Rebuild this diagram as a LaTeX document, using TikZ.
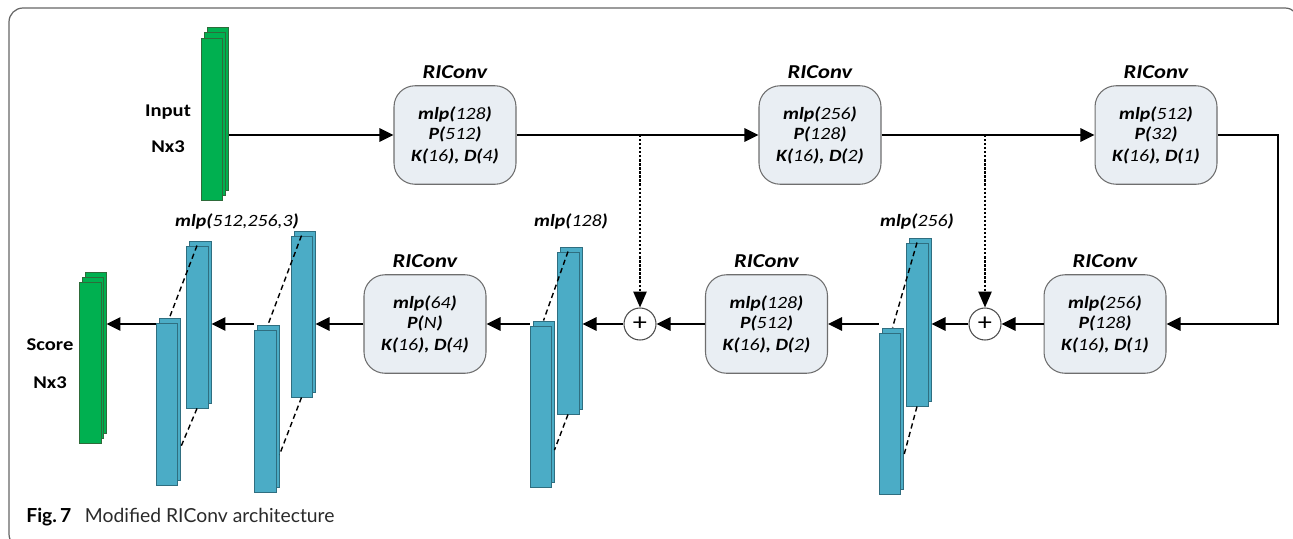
\documentclass[tikz,border=0pt]{standalone}
\usepackage{fontspec}
\setmainfont{Carlito}[FakeStretch=1.15]
\newfontfamily\capfont{Lato}
\usetikzlibrary{arrows.meta,fit,calc}

\definecolor{gfill}{HTML}{00B050}
\definecolor{gline}{HTML}{2E6B3A}
\definecolor{bfill}{HTML}{4BACC6}
\definecolor{bline}{HTML}{2F6E80}
\definecolor{boxfill}{HTML}{E9EEF3}
\definecolor{boxline}{HTML}{6E6E6E}
\definecolor{capgray}{HTML}{2A2A2A}

\newcommand{\pv}[2]{\textbf{#1(}#2\textbf{)}}
\newcommand{\slab}[6]{%
  \node[#6, fit={({#2+3},{#3-5}) ({#4+3},{#5-5})}] (#1b) {};
  \node[#6, fit={(#2,#3) (#4,#5)}] (#1) {};
}

\tikzset{
  rbox/.style={draw=boxline, line width=0.6pt, fill=boxfill, rounded corners=0.42cm,
    minimum width=2.44cm, minimum height=1.97cm, inner sep=0pt, align=center,
    font=\fontsize{9.8}{11.4}\selectfont\itshape},
  ttl/.style={font=\fontsize{11.2}{13}\selectfont\bfseries\itshape, inner sep=0pt, anchor=base},
  lbl/.style={font=\fontsize{10.2}{12}\selectfont\bfseries, inner sep=0pt, anchor=base},
  mlbl/.style={font=\fontsize{9.8}{11}\selectfont\itshape, inner sep=0pt, anchor=base},
  conn/.style={line width=1.5pt, -{Triangle[length=8pt,width=7.5pt]}},
  dconn/.style={line width=1pt, dash pattern=on 1.3pt off 1pt, -{Triangle[length=9pt,width=7.5pt]}},
  blu/.style={draw=bline, line width=0.5pt, fill=bfill, inner sep=0pt},
  grn/.style={draw=gline, line width=0.5pt, fill=gfill, inner sep=0pt},
  pls/.style={circle, draw=black!70, line width=0.6pt, fill=white, minimum size=0.64cm,
    inner sep=0pt, font=\fontsize{14}{14}\selectfont},
  dsh/.style={line width=0.8pt, dash pattern=on 3pt off 2pt},
}

\begin{document}
\begin{tikzpicture}[x=0.02cm,y=-0.02cm]
\useasboundingbox (0,0) rectangle (1293,538);
\begin{scope}
  \clip (0,0) rectangle (1293,538);
  \draw[black!60, line width=0.7pt, rounded corners=0.28cm] (9,8) rectangle (1299,548);
\end{scope}

% input stack
\node[grn, fit={(207,27) (228.5,190)}] (inb) {};
\node[grn, fit={(204,32.5) (225.5,195)}] (inm) {};
\node[grn, fit={(201.5,38) (222.5,200)}] (inf) {};
\node[lbl] (inlbl) at (168,116) {Input};
\node[lbl] (insz) at (168,152) {Nx3};

% score stack
\node[grn, fit={(85,272) (106,433)}] (scb) {};
\node[grn, fit={(82,277) (103.5,438)}] (scm) {};
\node[grn, fit={(79,282) (101,443)}] (scf) {};
\node[lbl] (sclbl) at (50,350) {Score};
\node[lbl] (scsz) at (50,388) {Nx3};

% RIConv boxes
\node[rbox] (b1) at (455,135) {\pv{mlp}{128}\\\pv{P}{512}\\[1pt]\pv{K}{16}\textbf{,} \pv{D}{4}};
\node[rbox] (b2) at (820,135) {\pv{mlp}{256}\\\pv{P}{128}\\[1pt]\pv{K}{16}\textbf{,} \pv{D}{2}};
\node[rbox] (b3) at (1156,135) {\pv{mlp}{512}\\\pv{P}{32}\\[1pt]\pv{K}{16}\textbf{,} \pv{D}{1}};
\node[rbox] (b4) at (1105,324) {\pv{mlp}{256}\\\pv{P}{128}\\[1pt]\pv{K}{16}\textbf{,} \pv{D}{1}};
\node[rbox] (b5) at (766.5,324) {\pv{mlp}{128}\\\pv{P}{512}\\[1pt]\pv{K}{16}\textbf{,} \pv{D}{2}};
\node[rbox] (b6) at (425,324) {\pv{mlp}{64}\\\pv{P}{N}\\[1pt]\pv{K}{16}\textbf{,} \pv{D}{4}};
\foreach \b in {b1,b2,b3,b4,b5,b6}
  \node[ttl] (t\b) at ([yshift=0.13cm]\b.north) {RIConv};

% plus nodes
\node[pls] (p1) at (640,324) {+};
\node[pls] (p2) at (985,324) {+};

% blue stacks
\slab{s4u}{906}{243}{928}{406}{blu}
\slab{s4l}{879}{333}{900}{494}{blu}
\slab{s3u}{557}{252}{579}{414}{blu}
\slab{s3l}{530}{326}{551}{487}{blu}
\slab{s2u}{291}{236}{312}{397}{blu}
\slab{s2l}{254}{330}{276}{492}{blu}
\slab{s1u}{186}{246}{208}{408}{blu}
\slab{s1l}{156}{323}{177}{485}{blu}

\foreach \s in {s1,s2,s3,s4}{
  \draw[dsh] (\s u.north) -- (\s lb.north);
  \draw[dsh] (\s u.south) -- ($(\s lb.north east)!0.8!(\s lb.south east)$);
}

\node[mlbl] (m1) at (237,226) {\pv{mlp}{512,256,3}};
\node[mlbl] (m3) at (571,226) {\pv{mlp}{128}};
\node[mlbl] (m4) at (917,226) {\pv{mlp}{256}};

% top row connectors
\draw[conn] (b1.west -| inb.east) -- (b1.west);
\draw[conn] (b1.east) -- (b2.west);
\draw[conn] (b2.east) -- (b3.west);
\coordinate (rc) at (1278,324);
\draw[conn, line join=miter] (b3.east) -| (rc) -- (b4.east);

% skip connections
\draw[dconn] (p1 |- b1.east) -- (p1.north);
\draw[dconn] (p2 |- b2.east) -- (p2.north);

% bottom row connectors
\draw[conn] (b4.west) -- (p2.east);
\draw[conn] (p2.west) -- (p2.west -| s4ub.east);
\draw[conn] (b5.east -| s4l.west) -- (b5.east);
\draw[conn] (b5.west) -- (p1.east);
\draw[conn] (p1.west) -- (p1.west -| s3ub.east);
\draw[conn] (b6.east -| s3l.west) -- (b6.east);
\draw[conn] (b6.west) -- (b6.west -| s2ub.east);
\draw[conn] (b6.west -| s2l.west) -- (b6.west -| s1ub.east);
\draw[conn] (b6.west -| s1l.west) -- (b6.west -| scb.east);

% caption
\node[anchor=base west, inner sep=0pt, font=\capfont\fontsize{11}{13}\selectfont, text=capgray] (cap) at (26,522)
  {\textbf{\color{black}Fig.\,7}\hspace{0.7em}Modified RIConv architecture};
\end{tikzpicture}
\end{document}
